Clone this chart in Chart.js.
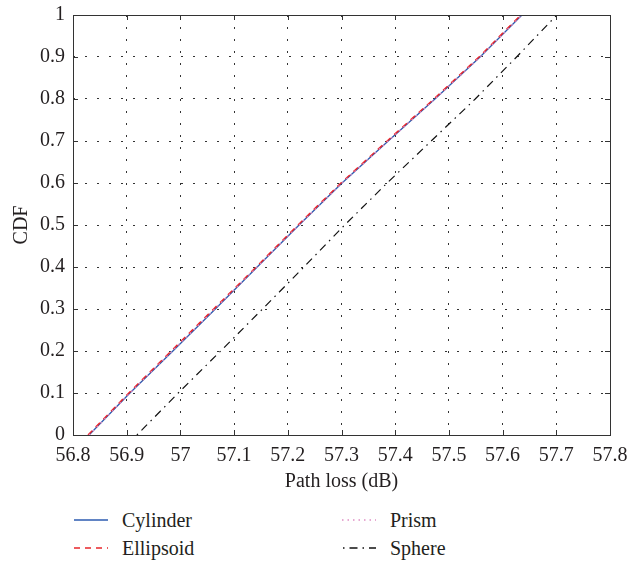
<!DOCTYPE html>
<html>
<head>
<meta charset="utf-8">
<script src="https://cdn.jsdelivr.net/npm/chart.js@4"></script>
<style>
  html, body { margin:0; padding:0; background:#fff; }
  #wrap { position:relative; width:629px; height:564px; font-family:"Liberation Serif", "DejaVu Serif", serif; }
  #cw { position:absolute; left:0; top:0; width:629px; height:500px; }
  .leg { position:absolute; font-size:20px; line-height:24px; color:#231f20; display:flex; align-items:center; }
  .leg svg { margin-right:14px; }
</style>
</head>
<body>
<div id="wrap">
  <div id="cw"><canvas id="c" width="629" height="500"></canvas></div>
  <div class="leg" style="left:74px; top:508px;"><svg width="34" height="4"><line x1="0" y1="2" x2="34" y2="2" stroke="#2d5bb0" stroke-width="1.5"/></svg>Cylinder</div>
  <div class="leg" style="left:74px; top:536px;"><svg width="34" height="4"><line x1="0" y1="2" x2="34" y2="2" stroke="#e8262b" stroke-width="1.5" stroke-dasharray="6,5"/></svg>Ellipsoid</div>
  <div class="leg" style="left:342px; top:508px;"><svg width="34" height="4"><line x1="0" y1="2" x2="34" y2="2" stroke="#df8fc4" stroke-width="1.5" stroke-dasharray="1.5,4"/></svg>Prism</div>
  <div class="leg" style="left:342px; top:536px;"><svg width="34" height="4"><line x1="1" y1="2" x2="34" y2="2" stroke="#111" stroke-width="1.3" stroke-dasharray="1.5,5,8,5"/></svg>Sphere</div>
</div>
<script>
const cdfLevels = [0, 0.1, 0.2, 0.3, 0.4, 0.5, 0.6, 0.7, 0.8, 0.9, 1.0];
const cylinder  = [56.830, 56.906, 56.986, 57.065, 57.143, 57.221, 57.301, 57.387, 57.474, 57.558, 57.636];
const ellipsoid = [56.828, 56.904, 56.983, 57.062, 57.141, 57.219, 57.299, 57.385, 57.472, 57.556, 57.634];
const prism     = [56.830, 56.906, 56.985, 57.064, 57.143, 57.221, 57.301, 57.387, 57.474, 57.558, 57.636];
const sphere    = [56.919, 56.996, 57.075, 57.153, 57.230, 57.306, 57.385, 57.467, 57.549, 57.626, 57.701];
const xTickValues = [56.8, 56.9, 57.0, 57.1, 57.2, 57.3, 57.4, 57.5, 57.6, 57.7, 57.8];
const yTickValues = [0, 0.1, 0.2, 0.3, 0.4, 0.5, 0.6, 0.7, 0.8, 0.9, 1];

const toPts = arr => arr.map((x, i) => ({x: x, y: cdfLevels[i]}));
const fmt = v => String(Number(v.toFixed(1)));

const boxPlugin = {
  id: 'box',
  afterDatasetsDraw(chart) {
    const {ctx, chartArea: a, scales} = chart;
    ctx.save();
    ctx.strokeStyle = '#333';
    ctx.lineWidth = 1;
    ctx.beginPath();
    xTickValues.forEach(v => {
      const px = Math.round(scales.x.getPixelForValue(v)) + 0.5;
      ctx.moveTo(px, a.bottom); ctx.lineTo(px, a.bottom - 5);
      ctx.moveTo(px, a.top); ctx.lineTo(px, a.top + 5);
    });
    yTickValues.forEach(v => {
      const py = Math.round(scales.y.getPixelForValue(v)) + 0.5;
      ctx.moveTo(a.left, py); ctx.lineTo(a.left + 5, py);
      ctx.moveTo(a.right, py); ctx.lineTo(a.right - 5, py);
    });
    ctx.stroke();
    ctx.strokeRect(Math.round(a.left) + 0.5, Math.round(a.top) + 0.5, Math.round(a.right - a.left), Math.round(a.bottom - a.top));
    ctx.restore();
  }
};

const font = {family: '"Liberation Serif", "DejaVu Serif", serif', size: 20};
const txt = '#231f20';

new Chart(document.getElementById('c'), {
  type: 'scatter',
  data: {
    datasets: [
      {label: 'Sphere', data: toPts(sphere), showLine: true, borderColor: '#111', borderWidth: 1.2, borderDash: [1.5, 5, 8, 5], pointRadius: 0, tension: 0},
      {label: 'Prism', data: toPts(prism), showLine: true, borderColor: '#df8fc4', borderWidth: 1.5, borderDash: [1.5, 4], pointRadius: 0, tension: 0},
      {label: 'Ellipsoid', data: toPts(ellipsoid), showLine: true, borderColor: '#e8262b', borderWidth: 1.5, borderDash: [6, 5], pointRadius: 0, tension: 0},
      {label: 'Cylinder', data: toPts(cylinder), showLine: true, borderColor: '#2d5bb0', borderWidth: 1.3, pointRadius: 0, tension: 0}
    ]
  },
  options: {
    responsive: false,
    animation: false,
    layout: {padding: {left: 0, right: 19, top: 15, bottom: 0}},
    plugins: {legend: {display: false}, tooltip: {enabled: false}},
    scales: {
      x: {
        type: 'linear', min: 56.8, max: 57.8,
        afterBuildTicks: s => { s.ticks = xTickValues.map(v => ({value: v})); },
        afterFit: s => { s.height = 65; s.paddingLeft = 0; s.paddingRight = 0; },
        ticks: {callback: v => fmt(v), color: txt, font: font, padding: 9, maxRotation: 0, autoSkip: false},
        grid: {color: '#333', lineWidth: 1, drawTicks: false},
        border: {display: false, dash: [2, 10]},
        title: {display: true, text: 'Path loss (dB)', color: txt, font: font, padding: {top: 0, bottom: 6}}
      },
      y: {
        type: 'linear', min: 0, max: 1,
        afterBuildTicks: s => { s.ticks = yTickValues.map(v => ({value: v})); },
        afterFit: s => { s.width = 73; s.paddingTop = 0; s.paddingBottom = 0; },
        ticks: {callback: v => fmt(v), color: txt, font: font, padding: 8, autoSkip: false},
        grid: {color: '#333', lineWidth: 1, drawTicks: false},
        border: {display: false, dash: [2, 10]},
        title: {display: true, text: 'CDF', color: txt, font: font, padding: {top: 10, bottom: 0}}
      }
    }
  },
  plugins: [boxPlugin]
});
</script>
</body>
</html>
